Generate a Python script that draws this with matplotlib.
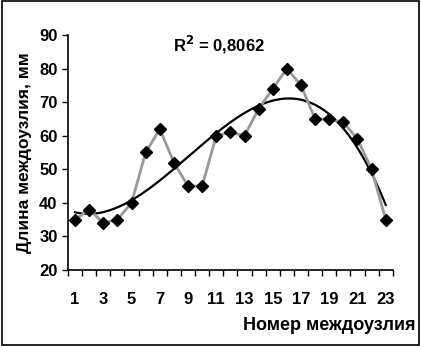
import matplotlib.pyplot as plt
import numpy as np

plt.rcParams['font.family'] = ['Liberation Sans', 'DejaVu Sans']
plt.rcParams['font.weight'] = 'bold'

# номера междоузлий и длины (мм)
nodes = list(range(1, 24))
lengths = [35, 38, 34, 35, 40, 55, 62, 52, 45, 45, 60, 61, 60, 68, 74, 80, 75, 65, 65, 64, 59, 50, 35]
r2_label = "R$^2$ = 0,8062"

fig = plt.figure(figsize=(4.21, 3.46), dpi=100)
ax = fig.add_axes([0.1615, 0.2197, 0.933 - 0.1615, 0.8988 - 0.2197])

# линия тренда - полином
x = np.array(nodes, dtype=float)
coef = np.polyfit(x, lengths, 3)
xs = np.linspace(1, 23, 200)
ax.plot(xs, np.polyval(coef, xs), color='black', lw=1.6, zorder=3)

ax.plot(nodes, lengths, color='#999999', lw=2, marker='D', markersize=6.5,
        markerfacecolor='black', markeredgecolor='black', zorder=4)

ax.set_xlim(0.5, 23.5)
ax.set_ylim(20, 90)
ax.set_yticks(range(20, 91, 10))
ax.set_xticks(nodes[::2])
ax.set_xticks(np.arange(0.5, 24, 1), minor=True)
ax.tick_params(axis='x', which='major', length=0, pad=16, labelsize=12)
ax.tick_params(axis='x', which='minor', length=4, width=1, direction='out')
ax.tick_params(axis='y', length=4, width=1, labelsize=12, direction='out')
for s in ['top', 'right']:
    ax.spines[s].set_visible(False)
for s in ['left', 'bottom']:
    ax.spines[s].set_linewidth(1.2)

ax.set_ylabel("Длина междоузлия, мм", fontsize=12.5, fontweight='bold', labelpad=5)
fig.text(0.988, 0.035, "Номер междоузлия", ha='right', va='bottom', fontsize=13, fontweight='bold')
fig.text(0.52, 0.87, r2_label, ha='center', va='center', fontsize=12, fontweight='bold')

# рамка вокруг рисунка
fig.patches.append(plt.Rectangle((0.004, 0.004), 0.992, 0.992, transform=fig.transFigure,
                                 fill=False, edgecolor='black', lw=1.2))

fig.savefig('out.png', dpi=100)
